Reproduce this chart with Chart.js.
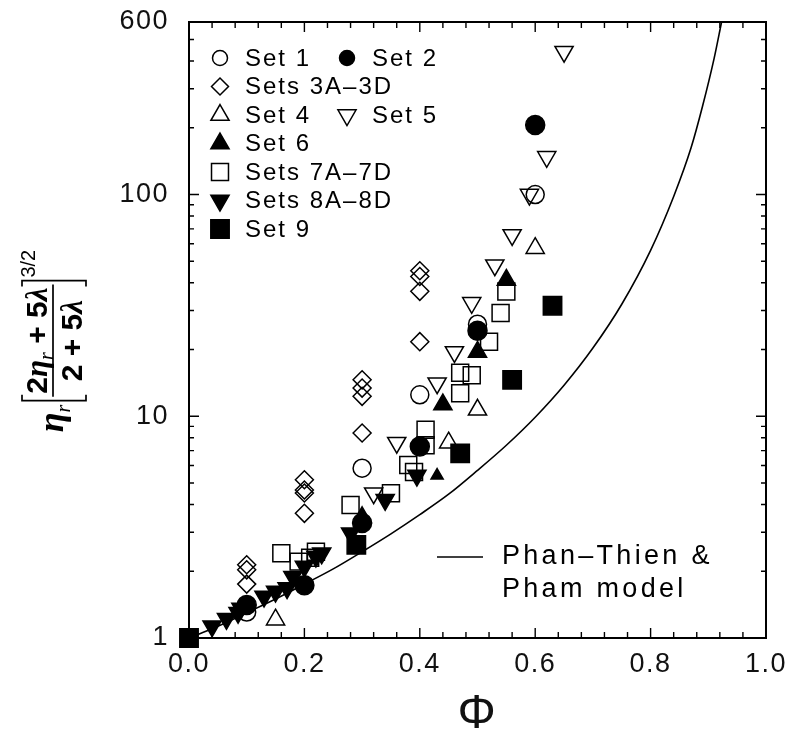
<!DOCTYPE html>
<html>
<head>
<meta charset="utf-8">
<script src="https://cdn.jsdelivr.net/npm/chart.js@4.4.0/dist/chart.umd.min.js"></script>
<style>
    html, body { margin: 0; padding: 0; background: #fff; }
    canvas { display: block; }
</style>
</head>
<body>
<canvas id="myChart" width="789" height="736"></canvas>
<script>
// values, [phi, eta_r * (...)^(3/2)]
const set1 = [[0.10, 1.31], [0.30, 5.83], [0.40, 12.5], [0.50, 26.0], [0.60, 100]];
const set2 = [[0.10, 1.41], [0.20, 1.73], [0.30, 3.3], [0.40, 7.3], [0.50, 24.3], [0.60, 206]];
const sets3 = [[0.10, 2.14], [0.10, 2.03], [0.10, 1.75],
    [0.20, 5.17], [0.20, 4.65], [0.20, 4.51], [0.20, 3.65],
    [0.30, 14.6], [0.30, 13.4], [0.30, 12.3], [0.30, 8.4],
    [0.40, 45.3], [0.40, 42.7], [0.40, 36.6], [0.40, 21.7]];
const set4 = [[0.15, 1.21], [0.45, 7.6], [0.50, 10.7], [0.60, 57.3]];
const set5 = [[0.32, 4.5], [0.36, 7.6], [0.43, 14.1], [0.46, 19.5], [0.49, 32.5],
    [0.53, 48], [0.56, 65.7], [0.59, 100], [0.62, 148], [0.65, 441]];
const set6 = [[0.30, 3.5], [0.43, 5.4], [0.44, 11.3], [0.50, 19.5], [0.55, 41.2]];
const sets7 = [[0.16, 2.41], [0.19, 2.21], [0.21, 2.3], [0.22, 2.45], [0.28, 3.98],
    [0.35, 4.5], [0.38, 6.03], [0.39, 5.6], [0.41, 8.7], [0.41, 7.4],
    [0.47, 15.7], [0.49, 15.3], [0.47, 12.7], [0.52, 21.7], [0.54, 29.2], [0.55, 36.5]];
const sets8 = [[0.04, 1.13], [0.065, 1.22], [0.085, 1.3], [0.09, 1.36], [0.13, 1.54],
    [0.15, 1.62], [0.17, 1.68], [0.18, 1.89], [0.20, 2.1], [0.22, 2.33], [0.23, 2.41],
    [0.28, 2.97], [0.34, 4.2], [0.395, 5.4]];
const set9 = [[0.0, 1.0], [0.29, 2.63], [0.47, 6.8], [0.56, 14.6], [0.63, 31.5]];

// Phan-Thien & Pham model curve
const modelPhi = [0, 0.05, 0.1, 0.15, 0.2, 0.25, 0.3, 0.35, 0.4, 0.45, 0.5, 0.55, 0.6,
    0.65, 0.7, 0.75, 0.8, 0.84, 0.87, 0.89, 0.91, 0.923];
const modelEta = [1.0, 1.13, 1.3, 1.5, 1.75, 2.05, 2.45, 2.95, 3.6, 4.45, 5.7, 7.4, 9.9,
    13.8, 20.3, 32, 56, 98, 162, 250, 410, 600];

const xTicks = [0, 0.2, 0.4, 0.6, 0.8, 1.0];
const yTicks = [1, 10, 100, 600];

const tickFont = { family: '"Liberation Sans", Arial, sans-serif', size: 27 };
const textFont = '24px "Liberation Sans", Arial, sans-serif';

function pts(arr) {
    return arr.map(p => ({ x: p[0], y: p[1] }));
}

function markerSet(label, data, style, filled, radius, rotation) {
    return {
        label: label,
        data: pts(data),
        pointStyle: style,
        pointRadius: radius,
        pointHoverRadius: radius,
        pointRotation: rotation || 0,
        pointBackgroundColor: filled ? '#000' : 'rgba(0,0,0,0)',
        pointBorderColor: '#000',
        pointBorderWidth: 1.5,
        showLine: false,
        clip: false
    };
}

const datasets = [
    {
        type: 'line',
        label: 'Phan–Thien & Pham model',
        data: modelPhi.map((p, i) => ({ x: p, y: modelEta[i] })),
        borderColor: '#000',
        borderWidth: 1.6,
        pointRadius: 0,
        fill: false,
        cubicInterpolationMode: 'monotone',
        clip: false
    },
    markerSet('Set 1', set1, 'circle', false, 9),
    markerSet('Set 2', set2, 'circle', true, 9.5),
    markerSet('Sets 3A–3D', sets3, 'rectRot', false, 9),
    markerSet('Set 4', set4, 'triangle', false, 10.5),
    markerSet('Set 5', set5, 'triangle', false, 10.5, 180),
    markerSet('Set 6', set6, 'triangle', true, 10.5),
    markerSet('Sets 7A–7D', sets7, 'rect', false, 12),
    markerSet('Sets 8A–8D', sets8, 'triangle', true, 10.5, 180),
    markerSet('Set 9', set9, 'rect', true, 13)
];
// the small filled triangle near phi = 0.43
datasets[6].pointRadius = c => c.dataIndex === 1 ? 7 : 10.5;

// legend rows: dataset index, row, column
const legendLayout = [
    [1, 0, 0], [2, 0, 1], [3, 1, 0], [4, 2, 0], [5, 2, 1],
    [6, 3, 0], [7, 4, 0], [8, 5, 0], [9, 6, 0]
];

const spacing = {
    id: 'spacing',
    beforeDraw(chart) {
        chart.ctx.letterSpacing = '1.5px';
    }
};

const frameTicks = {
    id: 'frameTicks',
    beforeDatasetsDraw(chart) {
        const { ctx, chartArea: a, scales: { x, y } } = chart;
        ctx.save();
        ctx.strokeStyle = '#000';
        ctx.lineWidth = 2;
        ctx.strokeRect(a.left, a.top, a.right - a.left, a.bottom - a.top);
        ctx.lineWidth = 1.4;
        ctx.beginPath();
        for (let i = 0; i <= 25; i++) {
            const px = x.getPixelForValue(i * 0.04);
            const len = i % 5 === 0 ? 10 : 6;
            ctx.moveTo(px, a.bottom);
            ctx.lineTo(px, a.bottom - len);
            ctx.moveTo(px, a.top);
            ctx.lineTo(px, a.top + len);
        }
        for (let d = 1; d <= 100; d *= 10) {
            for (let m = 1; m <= 9; m++) {
                const v = d * m;
                if (v >= 600) break;
                const py = y.getPixelForValue(v);
                const len = m === 1 ? 10 : 5;
                ctx.moveTo(a.left, py);
                ctx.lineTo(a.left + len, py);
                ctx.moveTo(a.right, py);
                ctx.lineTo(a.right - len, py);
            }
        }
        ctx.stroke();
        ctx.restore();
    }
};

const legendBox = {
    id: 'legendBox',
    afterDraw(chart) {
        const ctx = chart.ctx;
        const ds = chart.data.datasets;
        ctx.save();
        ctx.letterSpacing = '2px';
        ctx.font = textFont;
        ctx.textBaseline = 'middle';
        ctx.textAlign = 'left';
        legendLayout.forEach(([idx, row, col]) => {
            const d = ds[idx];
            const mx = col === 0 ? 220 : 347;
            const my = 58 + row * 28.5;
            const r = { circle: 7.5, rectRot: 8.5, triangle: 10.5, rect: 12 }[d.pointStyle];
            ctx.fillStyle = d.pointBackgroundColor;
            ctx.strokeStyle = '#000';
            ctx.lineWidth = 1.5;
            Chart.helpers.drawPoint(ctx, {
                pointStyle: d.pointStyle,
                rotation: d.pointRotation,
                radius: idx === 9 ? 13 : r,
                borderWidth: 1.5
            }, mx, my);
            ctx.fillStyle = '#000';
            ctx.fillText(d.label, mx + 25, my + 1);
        });

        // model line key
        ctx.strokeStyle = '#000';
        ctx.lineWidth = 1.6;
        ctx.beginPath();
        ctx.moveTo(437, 557);
        ctx.lineTo(483, 557);
        ctx.stroke();
        ctx.font = '27px "Liberation Sans", Arial, sans-serif';
        ctx.letterSpacing = '3.3px';
        ctx.fillText('Phan–Thien &', 502, 557);
        ctx.fillText('Pham model', 502, 590);
        ctx.restore();
    }
};

const yTitle = {
    id: 'yTitle',
    afterDraw(chart) {
        const ctx = chart.ctx;
        ctx.save();
        ctx.translate(0, 341);
        ctx.rotate(-Math.PI / 2);
        ctx.letterSpacing = '0px';
        ctx.fillStyle = '#000';
        ctx.strokeStyle = '#000';
        ctx.textBaseline = 'alphabetic';
        ctx.textAlign = 'left';
        const lead = 'bold italic 36px "Liberation Serif", serif';
        const num = 'bold 30px "Liberation Sans", Arial, sans-serif';
        const greek = 'bold italic 31px "Liberation Serif", serif';
        const sub = 'italic 20px "Liberation Serif", serif';
        const width = runs => runs.reduce((w, r) => {
            ctx.font = r.f;
            return w + ctx.measureText(r.t).width;
        }, 0);
        const draw = (runs, u, v) => {
            for (const r of runs) {
                ctx.font = r.f;
                ctx.fillText(r.t, u, v + (r.dv || 0));
                u += ctx.measureText(r.t).width;
            }
        };
        const head = [{ t: 'η', f: lead }, { t: 'r', f: sub, dv: 7 }];
        const numer = [{ t: '2', f: num }, { t: 'η', f: greek }, { t: 'r', f: sub, dv: 6 },
            { t: ' + 5', f: num }, { t: 'λ', f: greek }];
        const denom = [{ t: '2 + 5', f: num }, { t: 'λ', f: greek }];
        const sup = [{ t: '3/2', f: '20px "Liberation Sans", Arial, sans-serif' }];
        const wHead = width(head);
        const wNum = width(numer);
        const wDen = width(denom);
        const wSup = width(sup);
        const inner = Math.max(wNum, wDen) + 14;
        const total = wHead + 4 + inner + 3 + wSup;
        let u = -total / 2;
        draw(head, u, 63);
        u += wHead + 4;
        const b1 = u;
        const b2 = u + inner;
        ctx.lineWidth = 1.7;
        ctx.beginPath();
        ctx.moveTo(b1 + 6, 22); ctx.lineTo(b1, 22); ctx.lineTo(b1, 86); ctx.lineTo(b1 + 6, 86);
        ctx.moveTo(b2 - 6, 22); ctx.lineTo(b2, 22); ctx.lineTo(b2, 86); ctx.lineTo(b2 - 6, 86);
        ctx.moveTo(b1 + 4, 53); ctx.lineTo(b2 - 4, 53);
        ctx.stroke();
        draw(numer, b1 + (inner - wNum) / 2, 47);
        draw(denom, b1 + (inner - wDen) / 2, 82);
        draw(sup, b2 + 3, 35);
        ctx.restore();
    }
};

const ctx = document.getElementById('myChart').getContext('2d');
const myChart = new Chart(ctx, {
    type: 'scatter',
    data: { datasets: datasets },
    options: {
        responsive: false,
        animation: false,
        layout: { padding: { top: 22, right: 23, bottom: 0, left: 0 } },
        plugins: {
            legend: { display: false },
            tooltip: { enabled: false }
        },
        scales: {
            x: {
                type: 'linear',
                min: 0,
                max: 1,
                afterBuildTicks: scale => { scale.ticks = xTicks.map(v => ({ value: v })); },
                afterFit: scale => {
                    scale.height = 98;
                    scale.paddingLeft = 0;
                    scale.paddingRight = 0;
                },
                grid: { display: false, drawTicks: false },
                border: { display: false },
                ticks: {
                    color: '#111',
                    font: tickFont,
                    padding: 10,
                    maxRotation: 0,
                    callback: v => v.toFixed(1)
                },
                title: {
                    display: true,
                    text: 'Φ',
                    color: '#111',
                    font: { family: '"Liberation Sans", Arial, sans-serif', size: 48, lineHeight: 1 },
                    padding: { top: 0, bottom: -3 }
                }
            },
            y: {
                type: 'logarithmic',
                min: 1,
                max: 600,
                afterBuildTicks: scale => { scale.ticks = yTicks.map(v => ({ value: v })); },
                afterFit: scale => {
                    scale.width = 189;
                    scale.paddingTop = 0;
                    scale.paddingBottom = 0;
                },
                grid: { display: false, drawTicks: false },
                border: { display: false },
                ticks: {
                    color: '#111',
                    font: tickFont,
                    padding: 20,
                    callback: v => String(v)
                }
            }
        }
    },
    plugins: [spacing, frameTicks, legendBox, yTitle]
});
</script>
</body>
</html>
